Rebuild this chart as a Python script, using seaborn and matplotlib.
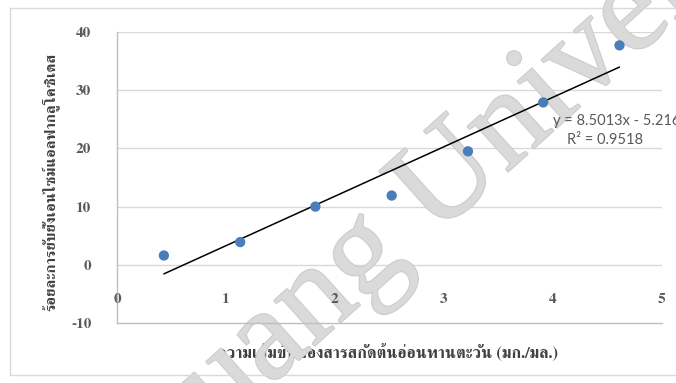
import matplotlib
matplotlib.use("Agg")
import matplotlib.pyplot as plt
import matplotlib.patheffects as pe
from matplotlib.patches import Rectangle
import pandas as pd
import seaborn as sns

# Alpha-glucosidase inhibition vs. sunflower sprout extract concentration
concentration = [0.43, 1.13, 1.82, 2.52, 3.22, 3.91, 4.61]
inhibition = [1.6, 3.9, 10.0, 11.9, 19.5, 27.9, 37.7]

# Linear trendline reported on the chart
slope = 8.5013
intercept = -5.2162
r_squared = 0.9518

x_ticks = [0, 1, 2, 3, 4, 5]
y_ticks = [-10, 0, 10, 20, 30, 40]
x_label = "ความเข้มข้นของสารสกัดต้นอ่อนทานตะวัน (มก./มล.)"
y_label = "ร้อยละการยับยั้งเอนไซม์แอลฟากลูโคซิเดส"
watermark = "Mae Fah Luang University"

sns.set_theme(style="white")
plt.rcParams["font.family"] = ["FreeSerif", "DejaVu Serif"]

W, H = 676, 383
fig = plt.figure(figsize=(W / 100, H / 100), dpi=100)
fig.patch.set_facecolor("white")

# chart-area frame
fig.add_artist(Rectangle((10 / W, 1 - 375 / H), 1.0, (375 - 8) / H,
                         transform=fig.transFigure, fill=False,
                         edgecolor="#d9d9d9", lw=1.0))

ax = fig.add_axes([117 / W, 1 - 323 / H, (662 - 117) / W, (323 - 32) / H])
ax.set_facecolor("white")

df = pd.DataFrame({"conc": concentration, "inhib": inhibition})
sns.scatterplot(data=df, x="conc", y="inhib", ax=ax, color="#4a7ebb",
                s=55, edgecolor="none", zorder=3)

trend_x = [concentration[0], concentration[-1]]
trend = pd.DataFrame({"conc": trend_x,
                      "inhib": [slope * v + intercept for v in trend_x]})
sns.lineplot(data=trend, x="conc", y="inhib", ax=ax, color="black",
             lw=1.1, zorder=2)

ax.set_xlim(x_ticks[0], x_ticks[-1])
ax.set_ylim(y_ticks[0], y_ticks[-1])
ax.set_yticks(y_ticks)
ax.set_yticklabels([str(v) for v in y_ticks])
ax.set_xticks([])
ax.grid(False)
# horizontal gridlines kept underneath everything else
for v in y_ticks[1:]:
    ax.axhline(v, color="#d9d9d9", lw=1.0, zorder=0.6)
for side in ("top", "right"):
    ax.spines[side].set_visible(False)
for side in ("left", "bottom"):
    ax.spines[side].set_color("#bfbfbf")
    ax.spines[side].set_linewidth(1.0)

ax.tick_params(axis="y", length=0, pad=18.5, labelsize=11, labelcolor="#595959")
for lab in ax.get_yticklabels():
    lab.set_fontweight("bold")

# x tick labels sit above the lower axis line
for v in x_ticks:
    ax.text(v, -6.0, str(v), ha="center", va="center", fontsize=11,
            fontweight="bold", color="#595959", zorder=4)

ax.set_xlabel(x_label, fontsize=11.8, fontweight="bold", color="#404040")
ax.xaxis.set_label_coords(0.497, -0.069)
ax.set_ylabel(y_label, fontsize=11, fontweight="bold", color="#404040")
ax.yaxis.set_label_coords(-0.103, 0.485)

eq = f"y = {slope:.4f}x - {abs(intercept):.4f}"
ax.text(4.0, 24.7, eq, ha="left", va="center", fontsize=10.5,
        family="Lato", color="#595959", clip_on=False, zorder=4)
ax.text(4.48, 21.5, f"R² = {r_squared:.4f}", ha="center", va="center",
        fontsize=10.5, family="Lato", color="#595959", clip_on=False, zorder=4)

# diagonal watermark between the gridlines and the data marks
ax.text(298 / W, 1 - 318 / H, watermark, transform=fig.transFigure,
        rotation=42, rotation_mode="anchor", ha="center", va="center",
        fontsize=95, color="#dadada", family="Liberation Serif",
        clip_on=False, zorder=1, alpha=0.95,
        path_effects=[pe.withStroke(linewidth=1.5, foreground="#cacaca")])

fig.savefig("out.png", dpi=100, facecolor="white")
